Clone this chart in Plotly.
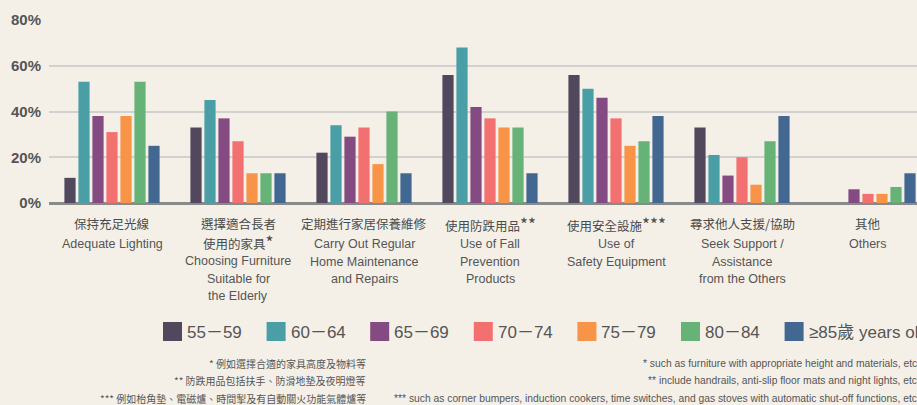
import plotly.graph_objects as go

# ---------------- data ----------------
categories = ["Adequate Lighting", "Choosing Furniture", "Home Maintenance",
              "Fall Prevention", "Safety Equipment", "Seek Support", "Others"]
cat_zh = [["保持充足光線"],
          ["選擇適合長者", "使用的家具*"],
          ["定期進行家居保養維修"],
          ["使用防跌用品**"],
          ["使用安全設施***"],
          ["尋求他人支援/協助"],
          ["其他"]]
cat_en = [["Adequate Lighting"],
          ["Choosing Furniture", "Suitable for", "the Elderly"],
          ["Carry Out Regular", "Home Maintenance", "and Repairs"],
          ["Use of Fall", "Prevention", "Products"],
          ["Use of", "Safety Equipment"],
          ["Seek Support /", "Assistance", "from the Others"],
          ["Others"]]
age_groups = ["55－59", "60－64", "65－69", "70－74", "75－79", "80－84", "≥85歲 years old"]

v_55_59 = [11, 33, 22, 56, 56, 33, 0]
v_60_64 = [53, 45, 34, 68, 50, 21, 0]
v_65_69 = [38, 37, 29, 42, 46, 12, 6]
v_70_74 = [31, 27, 33, 37, 37, 20, 4]
v_75_79 = [38, 13, 17, 33, 25, 8, 4]
v_80_84 = [53, 13, 40, 33, 27, 27, 7]
v_85_up = [25, 13, 13, 13, 38, 38, 13]

y_ticks = [0, 20, 40, 60, 80]
y_tick_labels = ["0%", "20%", "40%", "60%", "80%"]

notes_zh = ["* 例如選擇合適的家具高度及物料等",
            "** 防跌用品包括扶手、防滑地墊及夜明燈等",
            "*** 例如枱角墊、電磁爐、時間掣及有自動關火功能氣體爐等"]
notes_en = ["* such as furniture with appropriate height and materials, etc.",
            "** include handrails, anti-slip floor mats and night lights, etc.",
            "*** such as corner bumpers, induction cookers, time switches, and gas stoves with automatic shut-off functions, etc."]

# ---------------- style ----------------
colors = ["#51485e", "#4a9ea5", "#844a82", "#f27170", "#f79448", "#66b277", "#426892"]
series = [v_55_59, v_60_64, v_65_69, v_70_74, v_75_79, v_80_84, v_85_up]

W, H = 917, 405
ML, MR, MT, MB = 49, 0, 20, 202
PW = W - ML - MR
PH = H - MT - MB
CAT_PX = 126.0
BG = "#f4f0e8"
EN_FONT = "Liberation Sans, Arial, sans-serif"
ZH_FONT = "Noto Sans CJK TC, sans-serif"


def px_x(p):
    return (p - ML) / PW


def px_y(p):
    return (MT + PH - p) / PH


fig = go.Figure()
for name, vals, col in zip(age_groups, series, colors):
    fig.add_trace(go.Bar(x=categories, y=vals, name=name,
                         marker=dict(color=col, line=dict(width=0)),
                         showlegend=False))

annotations = []
# category labels
for cat, zh_lines, en_lines in zip(categories, cat_zh, cat_en):
    yc = 224
    for i, line in enumerate(zh_lines):
        txt = line.replace("*", "<span style='font-size:17px'>*</span>")
        annotations.append(dict(x=cat, xref="x", y=px_y(yc + 17 * i), yref="paper",
                                text=txt, showarrow=False, xanchor="center", yanchor="middle",
                                font=dict(family=ZH_FONT, size=12.5, color="#4a4a4a")))
    ye = yc + 17 * (len(zh_lines) - 1) + 20
    for i, line in enumerate(en_lines):
        annotations.append(dict(x=cat, xref="x", y=px_y(ye + 17.7 * i), yref="paper",
                                text=line, showarrow=False, xanchor="center", yanchor="middle",
                                font=dict(family=EN_FONT, size=12.5, color="#555555")))

# custom legend
shapes = []
for i, (name, col) in enumerate(zip(age_groups, colors)):
    x0 = 163 + 103.6 * i
    shapes.append(dict(type="rect", xref="paper", yref="paper",
                       x0=px_x(x0), x1=px_x(x0 + 19), y0=px_y(341), y1=px_y(322),
                       fillcolor=col, line=dict(width=0), layer="above"))
    annotations.append(dict(x=px_x(x0 + 22), xref="paper", y=px_y(332), yref="paper",
                            text=name, showarrow=False, xanchor="left", yanchor="middle",
                            font=dict(family=EN_FONT + ", " + ZH_FONT, size=17, color="#555555")))

# footnotes
for i, t in enumerate(notes_zh):
    annotations.append(dict(x=px_x(368), xref="paper", y=px_y(363 + 17.5 * i), yref="paper",
                            text=t, showarrow=False, xanchor="right", yanchor="middle",
                            font=dict(family=ZH_FONT, size=10, color="#555555")))
for i, t in enumerate(notes_en):
    annotations.append(dict(x=px_x(922), xref="paper", y=px_y(363 + 17.5 * i), yref="paper",
                            text=t, showarrow=False, xanchor="right", yanchor="middle",
                            font=dict(family=EN_FONT, size=10.3, color="#555555")))

fig.update_layout(
    width=W, height=H,
    margin=dict(l=ML, r=MR, t=MT, b=MB, pad=0),
    paper_bgcolor=BG, plot_bgcolor=BG,
    barmode="group", bargap=28 / 126, bargroupgap=0.2,
    annotations=annotations, shapes=shapes,
    xaxis=dict(type="category", range=[-0.5, -0.5 + PW / CAT_PX],
               showticklabels=False, showgrid=False, zeroline=False, showline=False,
               ticks=""),
    yaxis=dict(range=[0, 80], tickvals=y_ticks, ticktext=y_tick_labels,
               showgrid=True, gridcolor="#d1d1cf", gridwidth=2,
               zeroline=True, zerolinecolor="#8a8a8a", zerolinewidth=3,
               showline=False, ticks="", ticklabelstandoff=7,
               tickfont=dict(family=EN_FONT, size=15, color="#555555", weight="bold")),
    showlegend=False,
)

fig.write_html("out.html", config={"displayModeBar": False},
               post_script="document.body.style.margin='0';document.body.style.overflow='hidden';")
